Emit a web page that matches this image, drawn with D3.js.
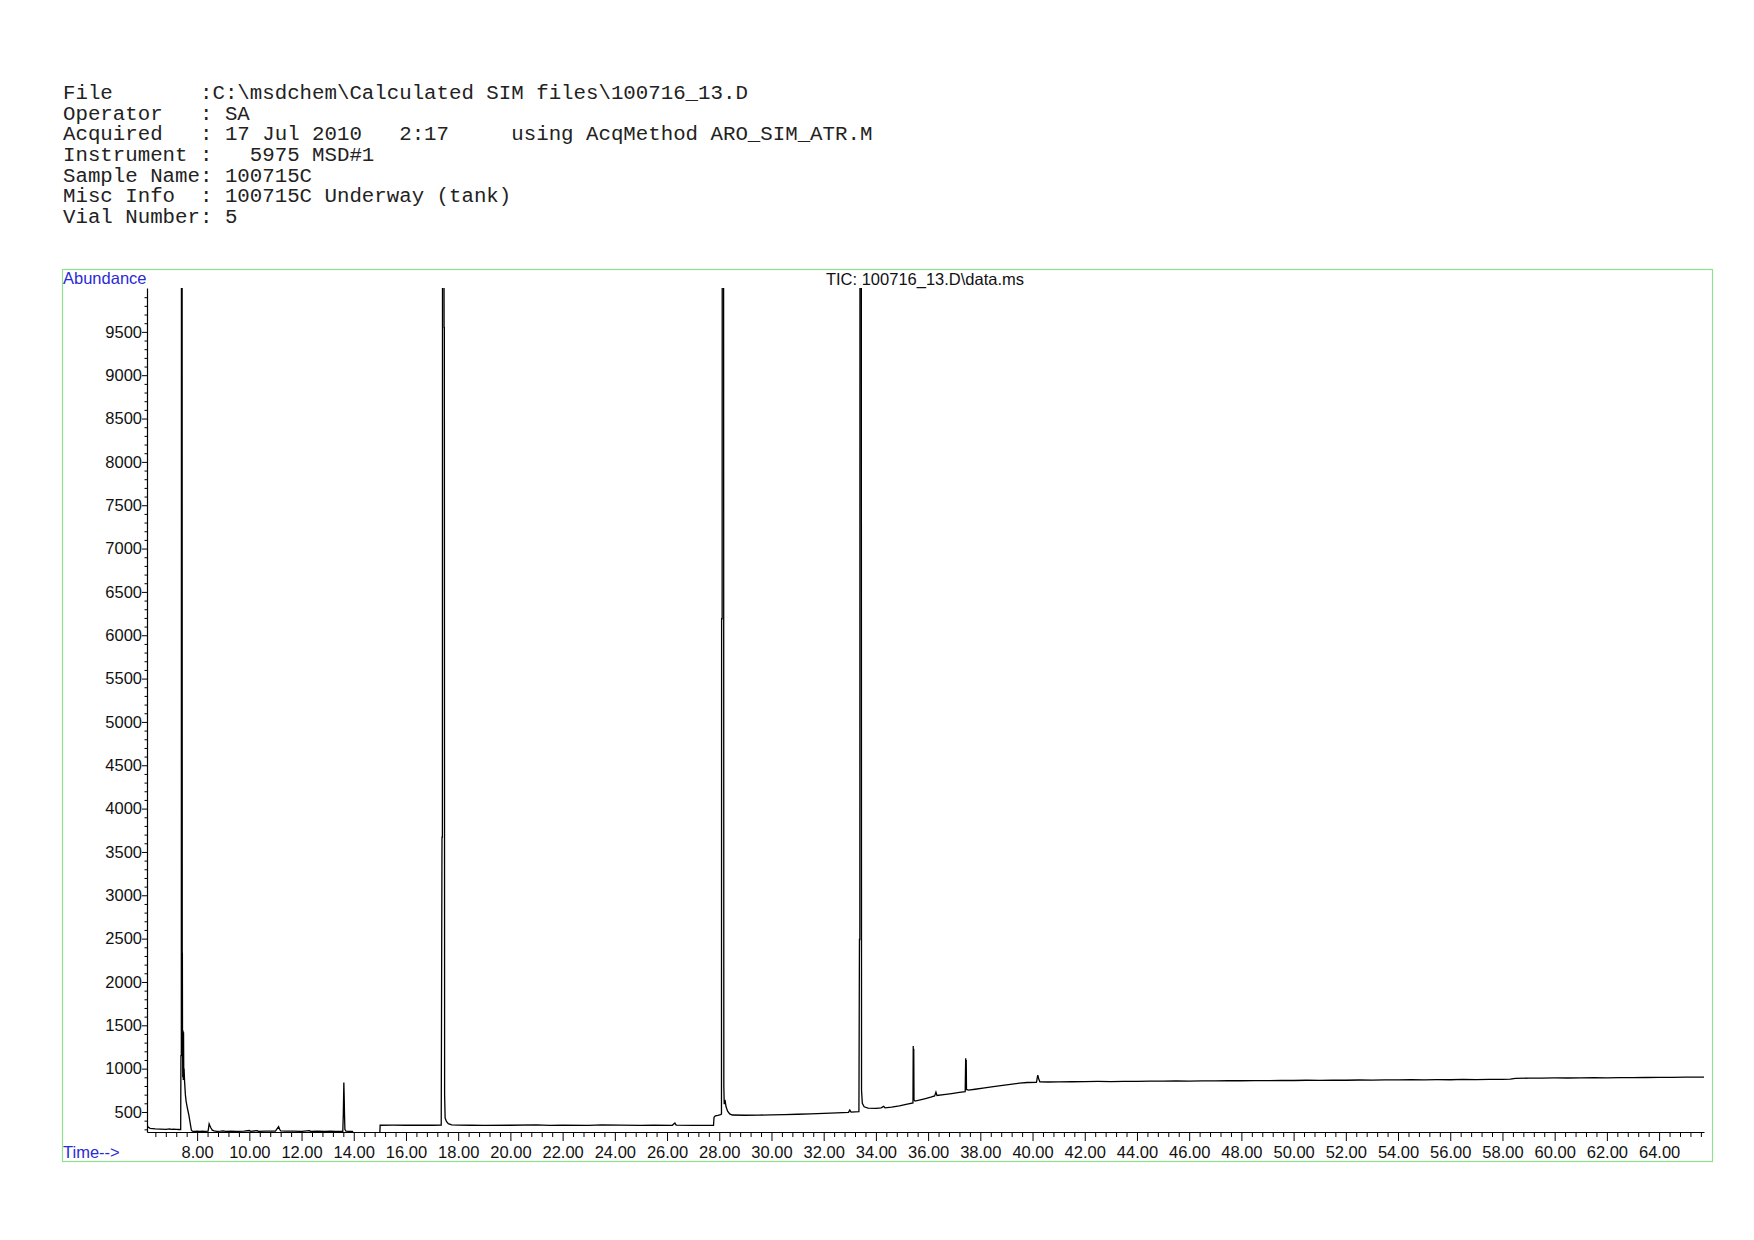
<!DOCTYPE html>
<html>
<head>
<meta charset="utf-8">
<script src="https://cdn.jsdelivr.net/npm/d3@7"></script>
<style>
  html, body { margin: 0; padding: 0; background: #fff; }
  svg { display: block; }
  .hdr { font-family: "Liberation Mono", "Courier New", monospace; font-size: 20.75px; fill: #222; white-space: pre; }
  .lbl { font-family: "Liberation Sans", Arial, sans-serif; font-size: 16.5px; }
</style>
</head>
<body>
<svg id="chart" width="1754" height="1240"></svg>
<script>
// ---------------- data ----------------
const headerLines = [
  "File       :C:\\msdchem\\Calculated SIM files\\100716_13.D",
  "Operator   : SA",
  "Acquired   : 17 Jul 2010   2:17     using AcqMethod ARO_SIM_ATR.M",
  "Instrument :   5975 MSD#1",
  "Sample Name: 100715C",
  "Misc Info  : 100715C Underway (tank)",
  "Vial Number: 5"
];
const chartTitle = "TIC: 100716_13.D\\data.ms";
const yAxisLabel = "Abundance";
const xAxisLabel = "Time-->";
const timeDomain = [6.08, 65.72];
const abundanceDomain = [269, 10006];
const xTickValues = [8, 10, 12, 14, 16, 18, 20, 22, 24, 26, 28, 30, 32, 34, 36, 38, 40, 42, 44, 46, 48, 50, 52, 54, 56, 58, 60, 62, 64];
const yTickValues = [500, 1000, 1500, 2000, 2500, 3000, 3500, 4000, 4500, 5000, 5500, 6000, 6500, 7000, 7500, 8000, 8500, 9000, 9500];

// TIC trace: [retention time (min), abundance]
const ticSignal = [
  [6.08,350],[6.12,325],[6.2,312],[6.4,305],[6.6,302],[6.8,300],[6.95,306],[7.0,300],[7.1,303],[7.2,299],[7.3,298],[7.37,297],
  [7.38,1150],[7.395,1150],[7.40,12000],[7.425,12000],[7.43,2330],[7.435,2330],[7.44,1450],[7.45,900],[7.46,1440],[7.47,870],
  [7.48,1420],[7.49,880],[7.50,1000],[7.52,850],[7.55,700],[7.58,620],[7.63,540],[7.68,470],[7.73,380],[7.78,290],[7.82,278],
  [7.9,275],[8.0,278],[8.1,276],[8.2,279],[8.3,276],[8.42,280],[8.46,362],[8.49,340],[8.53,315],[8.58,290],[8.65,282],[8.75,276],
  [8.9,278],[9.0,282],[9.1,276],[9.3,278],[9.5,276],[9.8,278],[10.0,286],[10.05,277],[10.3,285],[10.35,276],[10.6,280],[10.8,278],
  [11.0,279],[11.12,330],[11.16,300],[11.2,282],[11.4,278],[11.7,279],[12.0,276],[12.3,284],[12.35,276],[12.6,278],[12.9,276],
  [13.1,280],[13.3,277],[13.5,276],[13.58,277],
  [13.60,480],[13.62,840],[13.635,650],[13.645,480],[13.66,300],[13.7,280],[13.8,277],[13.95,276],[13.97,262],[15.0,262],
  [15.01,347],[15.5,348],[16.0,347],[16.5,349],[17.0,347],[17.35,348],
  [17.38,3670],[17.395,3670],[17.40,12000],[17.45,12000],[17.46,9550],[17.47,9550],[17.48,700],[17.5,430],[17.55,390],[17.62,365],
  [17.75,352],[18.0,348],[18.5,347],[19.0,346],[20.0,347],[21.0,351],[21.5,346],[22.0,347],[23.0,345],[23.5,352],[24.2,348],
  [25.0,346],[25.5,348],[26.2,346],[26.3,372],[26.35,348],[27.0,346],[27.5,345],[27.78,345],
  [27.8,440],[27.85,455],[27.95,462],[28.05,470],[28.085,475],[28.09,6190],[28.11,6190],[28.115,12000],[28.165,12000],
  [28.175,800],[28.19,590],[28.22,640],[28.26,560],[28.32,510],[28.4,478],[28.5,465],[29.0,462],[29.5,464],[30.0,466],
  [30.5,470],[31.0,474],[31.5,478],[32.0,484],[32.5,490],[32.95,495],[33.0,522],[33.05,498],[33.2,502],[33.35,505],
  [33.37,2490],[33.385,2490],[33.39,12000],[33.44,12000],[33.45,750],[33.48,600],[33.55,560],[33.7,545],[34.0,542],[34.2,548],
  [34.3,565],[34.35,548],[34.6,555],[34.9,570],[35.2,590],[35.42,605],
  [35.43,1260],[35.44,640],[35.45,1230],[35.46,640],[35.5,625],[35.7,640],[35.9,655],[36.1,670],[36.25,685],[36.3,730],[36.34,690],
  [36.6,700],[36.9,712],[37.2,725],[37.42,735],
  [37.43,940],[37.44,1120],[37.45,940],[37.46,1100],[37.47,760],[37.55,752],[37.8,762],[38.1,775],[38.5,792],[39.0,812],[39.5,832],
  [39.8,840],[40.15,842],[40.2,925],[40.24,880],[40.28,848],[40.6,846],[41.0,847],[41.5,849],[42.0,850],[42.5,852],[43.0,851],
  [43.5,854],[44.0,853],[44.5,856],[45.0,855],[45.5,858],[46.0,857],[46.5,859],[47.0,858],[47.5,861],[48.0,860],[48.5,862],
  [49.0,861],[49.5,864],[50.0,863],[50.5,866],[51.0,864],[51.5,867],[52.0,866],[52.5,869],[53.0,868],[53.5,871],[54.0,870],
  [54.5,872],[55.0,871],[55.5,873],[56.0,872],[56.5,875],[57.0,874],[57.5,877],[58.0,876],[58.3,878],[58.5,888],[59.0,890],
  [59.5,891],[60.0,893],[60.5,892],[61.0,894],[61.5,895],[62.0,894],[62.5,897],[63.0,896],[63.5,898],[64.0,899],[64.5,900],
  [65.0,901],[65.5,902],[65.72,903]
];

// ---------------- layout ----------------
const svg = d3.select("#chart");
svg.append("rect").attr("width", 1754).attr("height", 1240).attr("fill", "#fff");

const plot = { left: 147, right: 1704, top: 288, bottom: 1132 };
const frame = { left: 62.5, top: 269.5, right: 1712.5, bottom: 1161.5 };
const blue = "#2a2ad8";

// header
svg.append("g").selectAll("text").data(headerLines).join("text")
  .attr("class", "hdr")
  .attr("x", 63)
  .attr("y", (d, i) => 99 + i * 20.67)
  .text(d => d);

// frame
svg.append("rect")
  .attr("x", frame.left).attr("y", frame.top)
  .attr("width", frame.right - frame.left).attr("height", frame.bottom - frame.top)
  .attr("fill", "none").attr("stroke", "#8fe08f").attr("stroke-width", 1.2);

const x = d3.scaleLinear().domain(timeDomain).range([plot.left, plot.right]);
const y = d3.scaleLinear().domain(abundanceDomain).range([plot.bottom, plot.top]);

// minor ticks
const xMinor = d3.range(6.4, 65.72, 0.4).filter(v => !xTickValues.some(t => Math.abs(t - v) < 1e-6));
const yMinor = d3.range(300, 10006, 100).filter(v => v % 500 !== 0);

const gx = svg.append("g").attr("transform", `translate(0,${plot.bottom})`);
gx.call(d3.axisBottom(x).tickValues(xMinor).tickSize(5).tickFormat(""))
  .call(g => g.select(".domain").remove());
const gx2 = svg.append("g").attr("transform", `translate(0,${plot.bottom})`);
gx2.call(d3.axisBottom(x).tickValues(xTickValues).tickSize(9).tickSizeOuter(0).tickFormat(d3.format(".2f")));
gx2.selectAll("text").attr("class", "lbl").attr("fill", "#111").attr("y", 14.3);

const gy = svg.append("g").attr("transform", `translate(${plot.left},0)`);
gy.call(d3.axisLeft(y).tickValues(yMinor).tickSize(2.5).tickFormat(""))
  .call(g => g.select(".domain").remove());
const gy2 = svg.append("g").attr("transform", `translate(${plot.left},0)`);
gy2.call(d3.axisLeft(y).tickValues(yTickValues).tickSize(5).tickSizeOuter(0).tickPadding(0).tickFormat(d3.format("d")));
gy2.selectAll("text").attr("class", "lbl").attr("fill", "#111");

[gx, gx2, gy, gy2].forEach(g => {
  g.attr("font-family", null).attr("font-size", null);
  g.selectAll(".domain").attr("stroke", "#000").attr("stroke-width", 1.2);
  g.selectAll(".tick line").attr("stroke", "#000");
});

// clip & line
svg.append("clipPath").attr("id", "plotclip").append("rect")
  .attr("x", plot.left).attr("y", plot.top)
  .attr("width", plot.right - plot.left + 1).attr("height", plot.bottom - plot.top);

const line = d3.line().x(d => x(d[0])).y(d => y(d[1]));
svg.append("path")
  .datum(ticSignal)
  .attr("clip-path", "url(#plotclip)")
  .attr("d", line)
  .attr("fill", "none")
  .attr("stroke", "#000")
  .attr("stroke-width", 1.3)
  .attr("stroke-linejoin", "miter");

// labels
svg.append("text").attr("class", "lbl").attr("x", 63).attr("y", 284).attr("fill", blue).text(yAxisLabel);
svg.append("text").attr("class", "lbl").attr("x", 63).attr("y", 1158).attr("fill", blue).text(xAxisLabel);
svg.append("text").attr("class", "lbl").attr("x", 925).attr("y", 285).attr("text-anchor", "middle").attr("fill", "#111").text(chartTitle);
</script>
</body>
</html>
